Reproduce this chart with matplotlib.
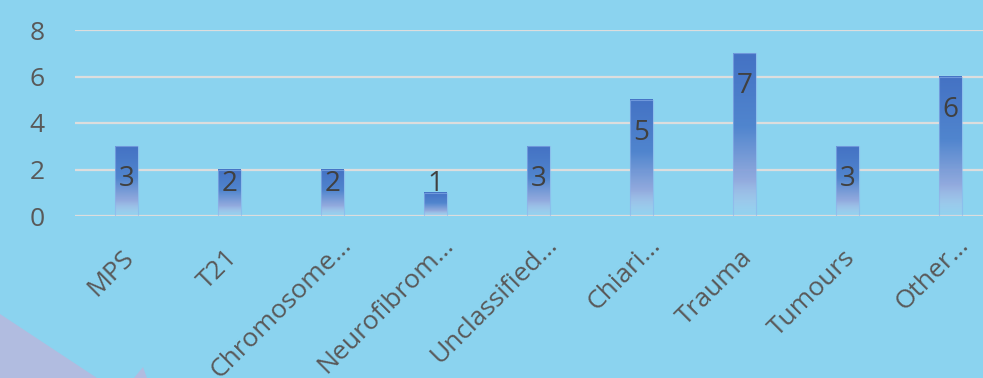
import numpy as np
import matplotlib
matplotlib.use("Agg")
import matplotlib.pyplot as plt
import matplotlib.transforms as mtransforms
from matplotlib.patches import Polygon
from matplotlib.colors import to_rgb

categories = ["MPS", "T21", "Chromosome\u2026", "Neurofibrom\u2026", "Unclassified\u2026",
              "Chiari\u2026", "Trauma", "Tumours", "Other\u2026"]
counts = [3, 2, 2, 1, 3, 5, 7, 3, 6]
y_ticks = [0, 2, 4, 6, 8]

BG = "#8BD3EF"
TXT = "#595959"
LBL = "#404040"

plt.rcParams["font.family"] = ["Open Sans", "DejaVu Sans"]

W, H = 983, 378
fig = plt.figure(figsize=(W / 100, H / 100), dpi=100)
fig.patch.set_facecolor(BG)

# lavender decoration in the lower left corner
fig.patches.append(Polygon([(0, 1 - 314 / H), (97 / W, 0), (0, 0)], closed=True,
                           transform=fig.transFigure, facecolor="#B1BCE0", edgecolor="none"))
fig.patches.append(Polygon([(134 / W, 0), (143 / W, 1 - 367 / H), (147 / W, 0)], closed=True,
                           transform=fig.transFigure, facecolor="#B1BCE0", edgecolor="none"))

ax = fig.add_axes([75 / W, 1 - 216 / H, 927 / W, 186 / H])
ax.set_facecolor(BG)
ax.patch.set_alpha(0)

x = np.arange(len(categories))
bars = ax.bar(x, counts, width=0.22, facecolor="none", edgecolor=(0.55, 0.70, 0.92, 0.6),
              linewidth=0.8, zorder=3)

# vertical gradient for each bar: blue at top fading to light lavender at the base
stops = [0.0, 0.45, 0.78, 1.0]
cols = [to_rgb("#4472C4"), to_rgb("#5085CE"), to_rgb("#93A8DD"), to_rgb("#C0CAEE")]
alphas = [1.0, 1.0, 0.95, 0.1]
t = np.linspace(0, 1, 256)
grad = np.zeros((256, 1, 4))
for c in range(3):
    grad[:, 0, c] = np.interp(t, stops, [col[c] for col in cols])
grad[:, 0, 3] = np.interp(t, stops, alphas)

for b in bars:
    x0 = b.get_x()
    ax.imshow(grad, extent=(x0, x0 + b.get_width(), 0, b.get_height()),
              aspect="auto", origin="upper", zorder=2, interpolation="bilinear")

for xi, v in zip(x, counts):
    ax.text(xi, max(v - 1.42, 1.38), str(v), ha="center", va="center",
            fontsize=20, color=LBL, zorder=4)

ax.set_xlim(-0.5, len(categories) - 0.5)
ax.set_ylim(0, 8)
ax.set_yticks(y_ticks)
ax.yaxis.grid(True, color="#DDDDDD", linewidth=1.6, zorder=0)
ax.set_axisbelow(True)
ax.set_xticks(x)
ax.set_xticklabels(categories, rotation=45, ha="right", rotation_mode="anchor")
ax.tick_params(axis="both", length=0, labelsize=19, labelcolor=TXT)
ax.tick_params(axis="y", pad=22)
ax.tick_params(axis="x", pad=21)
for lab in ax.get_xticklabels():
    # truncated labels sit a bit further up along the text direction
    dx, dy = (6, 13) if lab.get_text().endswith("\u2026") else (-5, 0)
    shift = mtransforms.ScaledTranslation(dx / 100, dy / 100, fig.dpi_scale_trans)
    lab.set_transform(lab.get_transform() + shift)
for s in ax.spines.values():
    s.set_visible(False)

fig.savefig("out.png", dpi=100, facecolor=BG)
